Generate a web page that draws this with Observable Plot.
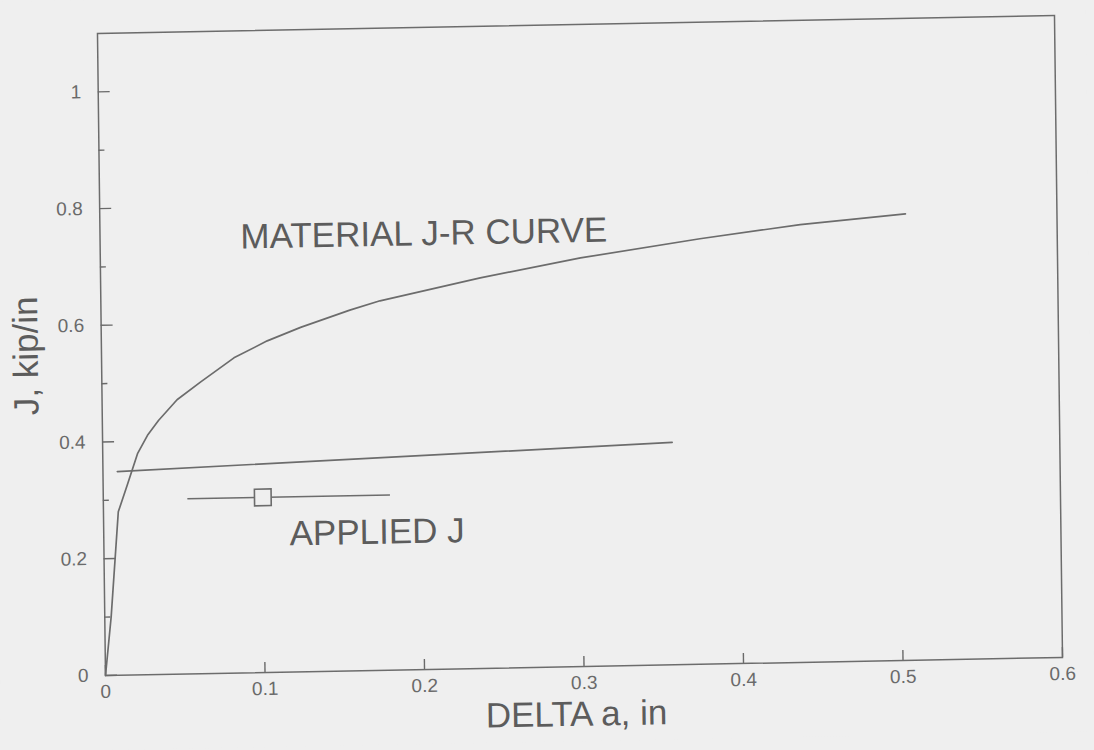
<!DOCTYPE html>
<html>
<head>
<meta charset="utf-8">
<script src="https://cdn.jsdelivr.net/npm/d3@7"></script>
<script src="https://cdn.jsdelivr.net/npm/@observablehq/plot@0.6"></script>
<style>
  html, body { margin: 0; padding: 0; background: #efefef; }
  #chart { width: 1094px; height: 750px; overflow: hidden; }
  /* the sheet sits slightly askew on the page */
  #chart svg { display: block; transform-origin: 105px 675px; transform: matrix(1, -0.0188, 0.0125, 1, 0, 0); }
</style>
</head>
<body>
<div id="chart"></div>
<script>
// Material J-R curve: crack extension (in) against J (kip/in)
const deltaA    = [0, 0.004, 0.0093, 0.0153, 0.0218, 0.0282, 0.0352, 0.047, 0.062, 0.083, 0.104, 0.125, 0.156, 0.175, 0.238, 0.301, 0.376, 0.439, 0.505];
const jMaterial = [0, 0.100, 0.280, 0.327, 0.379, 0.410, 0.435, 0.470, 0.500, 0.540, 0.568, 0.590, 0.618, 0.633, 0.669, 0.700, 0.729, 0.750, 0.765];

// Applied J line
const appliedDeltaA = [0.009, 0.357];
const appliedJ      = [0.349, 0.381];

// Applied J operating point and its crack-extension range
const pointDeltaA = [0.10];
const pointJ      = [0.30];
const rangeLow    = [0.053];
const rangeHigh   = [0.18];

// Axis ticks
const xTicks      = [0, 0.1, 0.2, 0.3, 0.4, 0.5, 0.6];
const yTicks      = [0, 0.2, 0.4, 0.6, 0.8, 1];
const yMinorTicks = [0.1, 0.3, 0.5, 0.7, 0.9];

// Text
const xLabel = "DELTA a, in";
const yLabel = "J, kip/in";
const materialLabel = "MATERIAL J-R CURVE";
const appliedLabel  = "APPLIED J";
// annotation anchors (data units: delta a, J)
const materialAt = {x: 0.088, y: 0.727};
const appliedAt  = {x: 0.1165, y: 0.217};

const ink = "#6c6c6c";
const paper = "#efefef";
const textInk = "#5c5c5c";

const curve = deltaA.map((x, i) => ({x, y: jMaterial[i]}));
const applied = appliedDeltaA.map((x, i) => ({x, y: appliedJ[i]}));
const point = pointDeltaA.map((x, i) => ({x, y: pointJ[i], x1: rangeLow[i], x2: rangeHigh[i]}));

const chart = Plot.plot({
  width: 1094,
  height: 750,
  marginLeft: 105,
  marginRight: 32,
  marginTop: 33,
  marginBottom: 75,
  x: {domain: [0, 0.6]},
  y: {domain: [0, 1.1]},
  style: {background: paper, color: "#6a6a6a", fontFamily: "'Liberation Sans', Arial, sans-serif"},
  marks: [
    Plot.frame({stroke: ink, strokeWidth: 1.5}),
    Plot.axisY({ticks: yTicks, tickSize: -12, tickPadding: 29, fontSize: 19, tickFormat: d => String(d), label: null, strokeWidth: 1.4}),
    Plot.axisY({ticks: yMinorTicks, tickSize: -6, tickFormat: () => "", label: null, strokeWidth: 1.4}),
    Plot.axisX({ticks: xTicks, tickSize: -10, tickPadding: 19, fontSize: 19, tickFormat: d => String(d), label: null, strokeWidth: 1.4}),
    Plot.line(curve, {x: "x", y: "y", stroke: ink, strokeWidth: 1.7, strokeLinejoin: "round"}),
    Plot.line(applied, {x: "x", y: "y", stroke: ink, strokeWidth: 1.7}),
    Plot.ruleY(point, {y: "y", x1: "x1", x2: "x2", stroke: ink, strokeWidth: 1.6}),
    Plot.dot(point, {x: "x", y: "y", symbol: "square", r: 9.4, stroke: ink, strokeWidth: 1.6, fill: paper}),
    Plot.text([materialLabel], {x: materialAt.x, y: materialAt.y, text: d => d, textAnchor: "start", lineAnchor: "bottom", fontSize: 35, fill: textInk}),
    Plot.text([appliedLabel], {x: appliedAt.x, y: appliedAt.y, text: d => d, textAnchor: "start", lineAnchor: "bottom", fontSize: 35, fill: textInk}),
    Plot.text([xLabel], {frameAnchor: "bottom", dx: -8, dy: 48, text: d => d, fontSize: 35, textAnchor: "middle", lineAnchor: "middle", fill: textInk}),
    Plot.text([yLabel], {frameAnchor: "left", dx: -75, rotate: -90, text: d => d, fontSize: 35, textAnchor: "middle", lineAnchor: "middle", fill: textInk})
  ]
});

document.getElementById("chart").appendChild(chart);
</script>
</body>
</html>
